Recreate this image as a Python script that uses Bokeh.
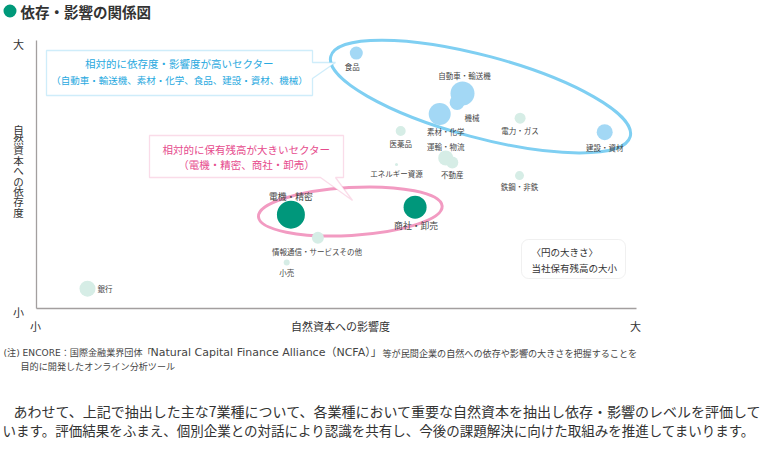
from bokeh.plotting import figure
from bokeh.models import (ColumnDataSource, Range1d, FixedTicker, LinearAxis, Label,
                          PolyAnnotation, BoxAnnotation)
from bokeh.embed import file_html
from bokeh.resources import INLINE
from bokeh.core.properties import value

FONT = "Noto Sans CJK JP"
FONT_MIXED = "DejaVu Sans, Noto Sans CJK JP"

# ---------------- data ----------------
sectors = ["食品", "自動車・輸送機", "機械", "素材・化学", "電力・ガス", "建設・資材", "医薬品",
           "エネルギー資源", "運輸・物流", "不動産", "鉄鋼・非鉄", "電機・精密", "商社・卸売",
           "情報通信・サービスその他", "小売", "銀行"]
impact = [53.3, 71.0, 70.1, 67.2, 80.6, 94.7, 60.7, 60.0, 68.2, 69.3, 80.5, 42.4, 63.1, 46.9, 41.7, 8.5]
dependence = [95.3, 80.2, 76.9, 72.6, 71.0, 65.8, 66.2, 53.7, 56.2, 54.5, 49.6, 35.0, 37.8, 26.4, 17.2, 7.4]
holding = [13, 24, 15, 22, 11, 16, 10, 3, 15, 12, 9, 28, 23, 12, 6, 16]
group = ["high", "high", "high", "high", "other", "high", "other", "other", "other", "other",
         "other", "holding", "holding", "other", "other", "other"]

x_ticks = ["小", "大"]
y_ticks = ["小", "大"]
x_title = "自然資本への影響度"
y_title = "自然資本への依存度"
title = "依存・影響の関係図"

# ---------------- styles ----------------
group_color = {"high": "#a3d8f5", "holding": "#00977b", "other": "#d6ede6"}
# label offsets in screen px (dx, dy) relative to the bubble centre
label_dx = [-4, 2, 15, 6, 0, 0, 0, 0, 0, 0, 0, 0, 1, -1, 0, 10]
label_dy = [13, -18, 15, 18, 12, 15, 12, 9, -11, 12, 11, -18, 18, 14, 10, 0]
label_align = ["center"] * 15 + ["left"]
label_size = ["7.5px"] * 11 + ["8.8px", "8.8px"] + ["7.5px"] * 3

W, H = 762, 440
# plot area in page pixels: x 36..636, y 40..308  -> data 0..100 on both axes
PX_L, PX_R, PY_T, PY_B = 36, 636, 40, 308
kx = (PX_R - PX_L) / 100.0
ky = (PY_B - PY_T) / 100.0
x_range = Range1d(-PX_L / kx, (W - PX_L) / kx)
y_range = Range1d(-(H - PY_B) / ky, PY_B / ky)

p = figure(width=W, height=H, x_range=x_range, y_range=y_range,
           output_backend="svg", toolbar_location=None,
           x_axis_type=None, y_axis_type=None,
           min_border=0)
p.outline_line_color = None
p.background_fill_color = "white"
p.border_fill_color = "white"

# axes fixed at the data origin, showing only the axis line
for side, bounds in (("left", (0, 100)), ("below", (0, 100))):
    ax = LinearAxis(ticker=FixedTicker(ticks=[]), fixed_location=0, bounds=bounds)
    ax.axis_line_color = "#a39f9f"
    ax.axis_line_width = 1.3
    ax.major_tick_line_color = None
    ax.minor_tick_line_color = None
    ax.major_tick_out = 0
    ax.major_tick_in = 0
    ax.minor_tick_out = 0
    ax.major_label_standoff = 0
    ax.major_label_text_font_size = "0px"
    p.add_layout(ax, side)

# screen units are measured from the bottom-left of the frame (= whole canvas)
def sx(rx):
    return rx

def sy(ry):
    return H - ry

def lab(rx, ry, text, size, color="#333333", align="left", bold=False, font=FONT):
    p.add_layout(Label(x=sx(rx), y=sy(ry), x_units="screen", y_units="screen", text=text,
                       text_font=font, text_font_size=f"{size}px", text_color=color,
                       text_align=align, text_baseline="middle",
                       text_font_style="bold" if bold else "normal"))

# highlight ellipses (behind bubbles)
p.ellipse(x=[74.0], y=[79.1], width=310, height=82, width_units="screen", height_units="screen",
          angle=-15, angle_units="deg", fill_color=None, line_color="#7fcff2", line_width=3)
p.ellipse(x=[52.3], y=[36.2], width=184, height=48, width_units="screen", height_units="screen",
          angle=3.3, angle_units="deg", fill_color=None, line_color="#f29bc2", line_width=3)

src = ColumnDataSource(dict(sector=sectors, impact=impact, dependence=dependence, holding=holding,
                            color=[group_color[g] for g in group],
                            dx=label_dx, dy=label_dy, align=label_align, fs=label_size))
p.scatter(x="impact", y="dependence", size="holding", fill_color="color", line_color=None,
          source=src)
p.text(x="impact", y="dependence", text="sector", x_offset="dx", y_offset="dy",
       text_align="align", text_baseline="middle", text_font=value(FONT),
       text_font_size="fs", text_color="#444444", source=src)

# callout: high dependence / impact
bx = [46, 312, 312, 335, 312, 312, 46]
by = [50, 50, 62, 62, 78, 95, 95]
p.add_layout(PolyAnnotation(xs=[sx(v) for v in bx], ys=[sy(v) for v in by],
                            xs_units="screen", ys_units="screen",
                            fill_color="white", fill_alpha=1, line_color="#5fc5ef", line_width=1.3))
lab(179, 63, "相対的に依存度・影響度が高いセクター", 10.5, "#29a9e0", "center")
lab(179, 79, "（自動車・輸送機、素材・化学、食品、建設・資材、機械）", 9.5, "#29a9e0", "center")

# callout: large holdings
qx = [149, 343, 343, 335, 352, 320, 149]
qy = [135, 135, 177, 177, 200, 177, 177]
p.add_layout(PolyAnnotation(xs=[sx(v) for v in qx], ys=[sy(v) for v in qy],
                            xs_units="screen", ys_units="screen",
                            fill_color="white", fill_alpha=1, line_color="#ef8cb7", line_width=1.3))
lab(246, 149, "相対的に保有残高が大きいセクター", 10.5, "#e64b8d", "center")
lab(246, 164, "（電機・精密、商社・卸売）", 10.5, "#e64b8d", "center")

# size legend box
p.add_layout(BoxAnnotation(left=sx(521), right=sx(625), top=sy(239), bottom=sy(278),
                           left_units="screen", right_units="screen",
                           top_units="screen", bottom_units="screen",
                           fill_color="white", fill_alpha=1, line_color="#cccccc", line_width=1,
                           border_radius=7))
lab(531, 251, "〈円の大きさ〉", 9.5)
lab(531, 267, "当社保有残高の大小", 9.5)

# axis end labels and titles
lab(18, 43, y_ticks[1], 11, align="center")
lab(18, 311, y_ticks[0], 11, align="center")
lab(35, 325, x_ticks[0], 11, align="center")
lab(635, 325, x_ticks[1], 11, align="center")
lab(340, 325, x_title, 11, align="center")
for i, ch in enumerate(y_title):
    lab(18, 128.5 + i * 10.4, ch, 10.5, align="center")

# title
p.add_layout(BoxAnnotation(left=sx(3), right=sx(16), top=sy(4), bottom=sy(17),
                           left_units="screen", right_units="screen",
                           top_units="screen", bottom_units="screen",
                           fill_color="#00997a", fill_alpha=1, line_color=None,
                           border_radius=7))
lab(20, 10.5, title, 14.5, "#333333", bold=True)

# notes (first line set in three runs so the Latin part gets a wider face)
lab(3, 352, "(注) ENCORE：国際金融業界団体「", 9.1, "#444444", font=FONT_MIXED)
lab(150, 352, "Natural Capital Finance Alliance（NCFA）」", 11, "#444444", font=FONT_MIXED)
lab(382, 352, "等が民間企業の自然への依存や影響の大きさを把握することを", 9.1, "#444444")
lab(20, 365.5, "目的に開発したオンライン分析ツール", 9.1, "#444444")

# paragraph
lab(13, 410, "あわせて、上記で抽出した主な7業種について、各業種において重要な自然資本を抽出し依存・影響のレベルを評価して", 14, "#333333")
lab(2, 429, "います。評価結果をふまえ、個別企業との対話により認識を共有し、今後の課題解決に向けた取組みを推進してまいります。", 13.5, "#333333")

open("out.html", "w").write(file_html(p, INLINE))
